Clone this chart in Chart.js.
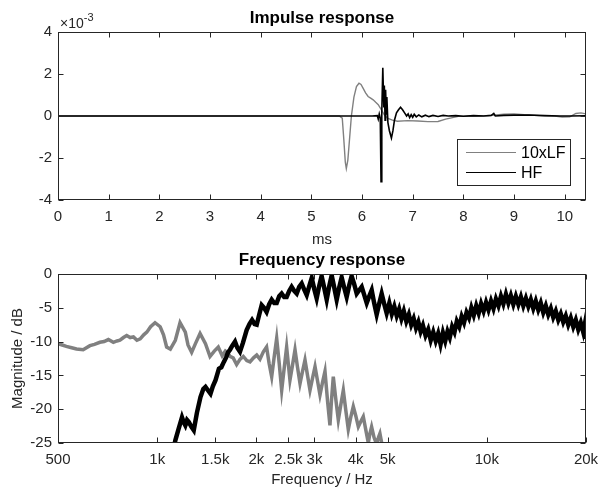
<!DOCTYPE html>
<html lang="en">
<head>
  <meta charset="UTF-8" />
  <title>Impulse and frequency response</title>
  <script src="https://cdn.jsdelivr.net/npm/chart.js"></script>
  <style>
    body {
      margin: 0;
      background: #fff;
    }
    .wrap {
      position: relative;
      width: 600px;
      height: 490px;
    }
    .wrap canvas {
      position: absolute;
      left: 0;
    }
  </style>
</head>
<body>
  <div class="wrap">
    <canvas id="irChart" width="600" height="250" style="top:0"></canvas>
    <canvas id="frChart" width="600" height="250" style="top:240px"></canvas>
  </div>

<script>
  // impulse response, [time ms, amplitude x1e-3]
  const lfImpulse = [
    [0, 0], [5.55, 0], [5.61, -0.1], [5.64, -1.1], [5.67, -2.2], [5.69, -2.5], [5.72, -2.1],
    [5.75, -1.2], [5.79, 0], [5.84, 0.9], [5.89, 1.4], [5.94, 1.56], [5.98, 1.5], [6.02, 1.33],
    [6.07, 1.1], [6.12, 0.93], [6.17, 0.85], [6.22, 0.77], [6.27, 0.65], [6.32, 0.54], [6.38, 0.3],
    [6.44, 0.05], [6.5, -0.1], [6.6, -0.2], [6.7, -0.25], [6.9, -0.22], [7.1, -0.24], [7.3, -0.27],
    [7.5, -0.26], [7.65, -0.15], [7.9, -0.02], [8.2, 0], [8.5, 0.02], [8.8, 0.08], [9.0, 0.1],
    [9.2, 0.06], [9.5, 0.02], [9.8, 0], [9.95, -0.05], [10.1, -0.04], [10.22, 0.12], [10.32, 0.15],
    [10.42, 0.1]
  ];
  const hfImpulse = [
    [0, 0], [6.2, 0], [6.3, 0.02], [6.32, -0.15], [6.34, 0.1], [6.36, -0.1], [6.375, -3.13],
    [6.39, 0.2], [6.41, 2.3], [6.43, 0.4], [6.44, 1.45], [6.455, -0.2], [6.465, 1.25], [6.48, 0.1],
    [6.49, 0.9], [6.51, -0.3], [6.54, -0.7], [6.58, -1.05], [6.61, -0.7], [6.64, -0.2], [6.68, 0.15],
    [6.72, 0.3], [6.76, 0.42], [6.8, 0.3], [6.84, 0.15], [6.88, 0], [6.91, 0.1], [6.94, -0.08],
    [6.97, 0.06], [7.0, -0.06], [7.03, 0.08], [7.07, -0.04], [7.12, 0.05], [7.18, -0.04], [7.25, 0.04],
    [7.32, -0.03], [7.4, 0.03], [7.5, -0.02], [7.6, 0.03], [7.7, 0], [7.85, 0.02], [8.0, -0.01],
    [8.2, 0.02], [8.4, 0], [8.55, 0.03], [8.6, 0.12], [8.63, 0], [8.8, 0.03], [9.0, 0.04],
    [9.3, 0.05], [9.6, 0.02], [9.9, 0], [10.1, 0], [10.42, 0.01]
  ];
  const msTicks = [0, 1, 2, 3, 4, 5, 6, 7, 8, 9, 10];
  const irTicks = [-4, -2, 0, 2, 4];

  // frequency response, [Hz, dB]
  const lfMagnitude = [
    [500, -10.3], [515, -10.5], [530, -10.7], [550, -10.9], [569, -11.1], [596, -11.2], [625, -10.6],
    [645, -10.4], [670, -10.1], [690, -10.0], [711, -9.7], [736, -10.1], [755, -9.9], [771, -9.8],
    [790, -9.4], [808, -9.1], [828, -9.4], [847, -9.3], [868, -9.8], [888, -9.6], [910, -9.0],
    [930, -8.6], [955, -7.8], [985, -7.2], [1021, -7.8], [1045, -9.0], [1068, -10.8], [1096, -11.1],
    [1135, -9.8], [1173, -7.2], [1217, -8.6], [1240, -10.5], [1272, -11.6], [1306, -10.3], [1349, -8.8],
    [1401, -10.3], [1446, -12.2], [1490, -11.4], [1532, -10.8], [1575, -12.1], [1610, -11.4],
    [1640, -11.7], [1663, -12.2], [1700, -12.4], [1742, -13.4], [1785, -12.6], [1825, -12.2],
    [1870, -12.8], [1912, -13.0], [1960, -12.4], [2004, -12.0], [2050, -12.6], [2099, -11.5],
    [2147, -10.8], [2185, -13.2], [2225, -15.2], [2265, -12.2], [2304, -9.5], [2345, -13.2],
    [2386, -17.2], [2430, -13.8], [2470, -10.8], [2528, -15.7], [2575, -13.4], [2619, -11.2],
    [2665, -13.8], [2712, -16.2], [2760, -14.4], [2808, -12.7], [2858, -15.0], [2908, -17.2],
    [2960, -15.4], [3012, -13.7], [3065, -15.8], [3118, -17.9], [3175, -16.0], [3229, -14.4],
    [3290, -19.0], [3343, -22.4], [3380, -18.6], [3422, -15.2], [3480, -18.4], [3544, -21.6],
    [3605, -19.4], [3670, -17.2], [3735, -20.2], [3800, -23.0], [3865, -21.2], [3935, -19.6],
    [4005, -21.0], [4076, -22.6], [4150, -21.8], [4220, -21.1], [4300, -23.2], [4370, -25.0],
    [4420, -23.6], [4472, -22.6], [4550, -24.2], [4633, -25.2], [4690, -24.2], [4740, -23.6],
    [4800, -25.0], [4850, -26.0]
  ];
  const hfMagnitude = [
    [1120, -26], [1135, -24.6], [1160, -23.0], [1189, -21.2], [1205, -22.0], [1217, -22.4],
    [1232, -21.6], [1247, -21.9], [1270, -22.6], [1291, -23.1], [1320, -20.5], [1353, -18.2],
    [1380, -17.0], [1401, -16.7], [1425, -17.2], [1451, -17.7], [1475, -16.6], [1503, -15.7],
    [1539, -14.0], [1565, -13.8], [1593, -13.0], [1620, -12.3], [1640, -11.6], [1663, -11.2],
    [1690, -10.6], [1722, -10.0], [1750, -10.9], [1783, -11.5], [1820, -10.2], [1868, -8.3],
    [1905, -7.4], [1940, -6.8], [1975, -7.4], [2004, -7.5], [2040, -6.0], [2075, -4.6], [2110, -5.0],
    [2147, -5.6], [2185, -4.5], [2225, -3.8], [2265, -4.3], [2304, -4.3], [2345, -3.3], [2386, -2.9],
    [2428, -3.4], [2470, -3.4], [2515, -2.5], [2558, -1.9], [2605, -2.5], [2650, -2.9], [2697, -1.9],
    [2744, -1.4], [2793, -2.3], [2842, -3.1], [2893, -1.8], [2943, -0.6], [2995, -2.2], [3047, -3.6],
    [3100, -1.8], [3154, -0.3], [3210, -2.0], [3268, -3.8], [3326, -1.8], [3384, -0.2], [3444, -2.0],
    [3504, -3.8], [3566, -2.0], [3628, -0.5], [3692, -2.0], [3757, -3.4], [3823, -1.7], [3890, -0.3],
    [3960, -1.5], [4030, -2.9], [4100, -2.4], [4173, -1.9], [4247, -3.1], [4322, -4.3], [4398, -3.3],
    [4475, -2.4], [4553, -4.3], [4633, -6.0], [4715, -4.4], [4798, -2.9], [4882, -4.4], [4968, -5.8],
    [5060, -4.3], [5150, -5.9], [5240, -4.8], [5330, -6.2], [5420, -5.2], [5510, -6.6], [5600, -5.5],
    [5700, -7.0], [5800, -6.0], [5900, -7.5], [6000, -6.6], [6100, -8.0], [6200, -7.1], [6300, -8.5],
    [6400, -7.6], [6520, -9.1], [6640, -8.2], [6760, -9.8], [6880, -8.6], [7000, -9.9], [7120, -8.8],
    [7240, -10.4], [7360, -8.7], [7480, -9.9], [7600, -8.5], [7720, -9.4], [7850, -7.8], [7980, -8.6],
    [8110, -7.0], [8250, -7.8], [8390, -6.3], [8530, -7.2], [8680, -5.7], [8830, -6.5], [8980, -5.0],
    [9130, -6.1], [9290, -4.7], [9450, -5.8], [9610, -4.4], [9780, -5.5], [9950, -4.2], [10120, -5.3],
    [10300, -4.0], [10480, -5.1], [10660, -3.7], [10850, -4.7], [11040, -3.3], [11230, -4.4],
    [11430, -3.0], [11630, -4.3], [11830, -3.2], [12040, -4.5], [12250, -3.3], [12470, -4.5],
    [12690, -3.4], [12910, -4.7], [13140, -3.6], [13370, -4.8], [13600, -3.8], [13840, -5.1],
    [14080, -4.0], [14330, -5.3], [14580, -4.3], [14840, -5.7], [15100, -4.7], [15370, -6.0],
    [15640, -5.1], [15910, -6.4], [16190, -5.5], [16480, -6.8], [16770, -5.9], [17060, -7.1],
    [17360, -6.2], [17670, -7.5], [17980, -6.5], [18300, -7.8], [18620, -6.8], [18950, -8.2],
    [19280, -7.2], [19620, -8.6], [19800, -7.6], [19950, -9.6], [20000, -8.3]
  ];
  const freqTicks = [500, 1000, 1500, 2000, 2500, 3000, 4000, 5000, 10000, 20000];
  const freqTickLabels = ['500', '1k', '1.5k', '2k', '2.5k', '3k', '4k', '5k', '10k', '20k'];
  const dbTicks = [-25, -20, -15, -10, -5, 0];

  const FONT = '"Liberation Sans", Arial, Helvetica, sans-serif';
  const AXIS = '#262626';
  Chart.defaults.font.family = FONT;
  Chart.defaults.font.size = 15;
  Chart.defaults.color = AXIS;

  const toXY = arr => arr.map(p => ({ x: p[0], y: p[1] }));

  // keep the plot box fixed, labels may hang over the padding
  const fixX = h => s => { s.height = h; s.paddingLeft = 0; s.paddingRight = 0; };
  const fixY = s => { s.width = 58; s.paddingTop = 0; s.paddingBottom = 0; };

  // matlab style box, inward ticks, titles, labels, legend
  const matlabAxes = {
    id: 'matlabAxes',
    afterDraw(chart, args, opts) {
      const { ctx, chartArea: a, scales } = chart;
      const L = Math.round(a.left) + 0.5, R = Math.round(a.right) - 0.5;
      const T = Math.round(a.top) + 0.5, B = Math.round(a.bottom) - 0.5;
      ctx.save();
      ctx.strokeStyle = AXIS;
      ctx.lineWidth = 1;
      ctx.strokeRect(L, T, R - L, B - T);
      ctx.beginPath();
      scales.x.ticks.forEach(t => {
        const px = Math.round(scales.x.getPixelForValue(t.value)) + 0.5;
        ctx.moveTo(px, B); ctx.lineTo(px, B - 5);
        ctx.moveTo(px, T); ctx.lineTo(px, T + 5);
      });
      scales.y.ticks.forEach(t => {
        const py = Math.round(scales.y.getPixelForValue(t.value)) + 0.5;
        ctx.moveTo(L, py); ctx.lineTo(L + 5, py);
        ctx.moveTo(R, py); ctx.lineTo(R - 5, py);
      });
      ctx.stroke();

      const cx = (a.left + a.right) / 2;
      ctx.fillStyle = '#000';
      ctx.textAlign = 'center';
      ctx.textBaseline = 'alphabetic';
      ctx.font = 'bold 17px ' + FONT;
      ctx.fillText(opts.title, cx, opts.titleY);

      ctx.fillStyle = AXIS;
      ctx.font = '15px ' + FONT;
      ctx.fillText(opts.xLabel, cx, opts.xLabelY);

      if (opts.yLabel) {
        ctx.save();
        ctx.translate(opts.yLabelX, (a.top + a.bottom) / 2);
        ctx.rotate(-Math.PI / 2);
        ctx.fillText(opts.yLabel, 0, 0);
        ctx.restore();
      }

      if (opts.exponent) {
        ctx.textAlign = 'left';
        ctx.font = '14px ' + FONT;
        ctx.fillText('\u00d710', a.left + 2, 28);
        const w = ctx.measureText('\u00d710').width;
        ctx.font = '11px ' + FONT;
        ctx.fillText(opts.exponent, a.left + 2 + w, 21);
      }

      if (opts.legend) {
        const lg = opts.legend;
        ctx.fillStyle = '#fff';
        ctx.fillRect(lg.x, lg.y, lg.w, lg.h);
        ctx.strokeStyle = AXIS;
        ctx.strokeRect(lg.x + 0.5, lg.y + 0.5, lg.w, lg.h);
        chart.data.datasets.forEach((ds, i) => {
          const y = lg.y + 13 + i * 20;
          ctx.strokeStyle = ds.borderColor;
          ctx.lineWidth = 1.2;
          ctx.beginPath();
          ctx.moveTo(lg.x + 9, y + 0.5);
          ctx.lineTo(lg.x + 59, y + 0.5);
          ctx.stroke();
          ctx.fillStyle = '#000';
          ctx.textAlign = 'left';
          ctx.font = '16px ' + FONT;
          ctx.fillText(ds.label, lg.x + 64, y + 6);
        });
      }
      ctx.restore();
    }
  };

  new Chart(document.getElementById('irChart'), {
    type: 'line',
    data: {
      datasets: [
        { label: '10xLF', data: toXY(lfImpulse), borderColor: '#808080', borderWidth: 1.4, order: 1 },
        { label: 'HF', data: toXY(hfImpulse), borderColor: '#000000', borderWidth: 1.6, order: 0 }
      ]
    },
    options: {
      responsive: false,
      animation: false,
      layout: { padding: { left: 0, right: 14, top: 32, bottom: 0 } },
      elements: { point: { radius: 0 }, line: { tension: 0 } },
      datasets: { line: { clip: 0 } },
      plugins: {
        legend: { display: false },
        tooltip: { enabled: false },
        matlabAxes: {
          title: 'Impulse response', titleY: 23,
          xLabel: 'ms', xLabelY: 244,
          exponent: '-3',
          legend: { x: 457, y: 139, w: 113, h: 46 }
        }
      },
      scales: {
        x: {
          type: 'linear', min: 0, max: 10.42,
          grid: { display: false, drawTicks: false }, border: { display: false },
          afterBuildTicks: s => { s.ticks = msTicks.map(v => ({ value: v })); },
          afterFit: fixX(50),
          ticks: { padding: 8, maxRotation: 0, autoSkip: false }
        },
        y: {
          min: -4, max: 4,
          grid: { display: false, drawTicks: false }, border: { display: false },
          afterBuildTicks: s => { s.ticks = irTicks.map(v => ({ value: v })); },
          afterFit: fixY,
          ticks: { padding: 6 }
        }
      }
    },
    plugins: [matlabAxes]
  });

  new Chart(document.getElementById('frChart'), {
    type: 'line',
    data: {
      datasets: [
        { label: '10xLF', data: toXY(lfMagnitude), borderColor: '#808080', borderWidth: 3.5, order: 1 },
        { label: 'HF', data: toXY(hfMagnitude), borderColor: '#000000', borderWidth: 4.5, order: 0 }
      ]
    },
    options: {
      responsive: false,
      animation: false,
      layout: { padding: { left: 0, right: 14, top: 34, bottom: 0 } },
      elements: { point: { radius: 0 }, line: { tension: 0 } },
      datasets: { line: { clip: 0 } },
      plugins: {
        legend: { display: false },
        tooltip: { enabled: false },
        matlabAxes: {
          title: 'Frequency response', titleY: 25,
          xLabel: 'Frequency / Hz', xLabelY: 244,
          yLabel: 'Magnitude / dB', yLabelX: 22
        }
      },
      scales: {
        x: {
          type: 'logarithmic', min: 500, max: 20000,
          grid: { display: false, drawTicks: false }, border: { display: false },
          afterBuildTicks: s => { s.ticks = freqTicks.map(v => ({ value: v })); },
          afterFit: fixX(47),
          ticks: {
            padding: 8, maxRotation: 0, autoSkip: false,
            callback: (v, i) => freqTickLabels[i]
          }
        },
        y: {
          min: -25, max: 0,
          grid: { display: false, drawTicks: false }, border: { display: false },
          afterBuildTicks: s => { s.ticks = dbTicks.map(v => ({ value: v })); },
          afterFit: fixY,
          ticks: { padding: 6 }
        }
      }
    },
    plugins: [matlabAxes]
  });
</script>
</body>
</html>
